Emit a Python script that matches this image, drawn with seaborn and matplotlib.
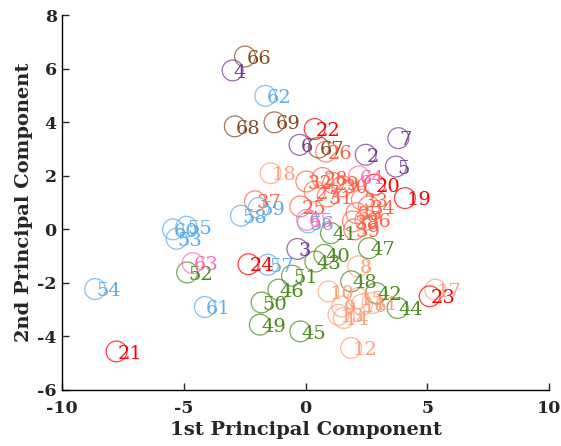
import matplotlib
matplotlib.use("Agg")
import matplotlib.pyplot as plt
import seaborn as sns
import pandas as pd

# ---- data ----
labels = [2, 3, 4, 5, 6, 7,
          8, 9, 10, 11, 12, 13, 14, 15, 16, 17, 18,
          19, 20, 21, 22, 23, 24,
          25, 26, 27, 28, 29, 30, 31, 32, 33, 34, 35, 36, 37, 38, 39,
          40, 41, 42, 43, 44, 45, 46, 47, 48, 49, 50, 51, 52,
          53, 54, 55, 56, 57, 58, 59, 60, 61, 62,
          63, 64, 65,
          66, 67, 68, 69]
pc1 = [2.47, -0.34, -3.0, 3.71, -0.25, 3.81,
       2.16, 1.5, 0.94, 2.75, 1.87, 1.35, 1.57, 2.16, 2.31, 5.33, -1.44,
       4.08, 2.83, -7.77, 0.37, 5.1, -2.35,
       -0.22, 0.84, 0.37, 0.69, 1.13, 1.5, 0.91, 0.03, 2.31, 2.6, 2.09, 2.46, -2.08, 1.94, 2.0,
       0.77, 1.04, 2.9, 0.4, 3.78, -0.22, -1.12, 2.6, 1.87, -1.88, -1.81, -0.56, -4.87,
       -5.3, -8.65, -4.9, 0.1, -1.55, -2.66, -1.93, -5.45, -4.14, -1.66,
       -4.64, 2.19, 0.06,
       -2.49, 0.54, -2.91, -1.28]
pc2 = [2.79, -0.73, 5.94, 2.35, 3.16, 3.41,
       -1.38, -2.88, -2.32, -2.75, -4.43, -3.19, -3.31, -2.57, -2.81, -2.25, 2.1,
       1.17, 1.67, -4.56, 3.75, -2.5, -1.3,
       0.86, 2.91, 1.42, 1.92, 1.73, 1.61, 1.23, 1.79, 1.11, 0.86, 0.61, 0.36, 1.05, 0.3, 0.0,
       -0.95, -0.14, -2.38, -1.2, -2.94, -3.81, -2.25, -0.7, -1.94, -3.56, -2.73, -1.73, -1.61,
       -0.35, -2.23, 0.1, 0.26, -1.32, 0.51, 0.8, 0.0, -2.9, 4.99,
       -1.26, 1.98, 0.36,
       6.46, 3.06, 3.85, 4.0]
groups = (["A"] * 6 + ["B"] * 11 + ["C"] * 6 + ["D"] * 15 +
          ["E"] * 13 + ["F"] * 10 + ["G"] * 3 + ["H"] * 4)
group_colors = {"A": "#763C96", "B": "#FFA07A", "C": "#FF0000", "D": "#FF6347",
                "E": "#4A8C1C", "F": "#5DADEC", "G": "#FF69B4", "H": "#8B4A1E"}
x_ticks = [-10, -5, 0, 5, 10]
y_ticks = [-6, -4, -2, 0, 2, 4, 6, 8]

df = pd.DataFrame({"pc1": pc1, "pc2": pc2, "label": labels, "group": groups})

sns.set_style("ticks")
plt.rcParams["font.family"] = ["DejaVu Serif", "Liberation Serif"]

fig = plt.figure(figsize=(5.61, 4.46), dpi=100)
ax = fig.add_axes([0.111, 0.1256, 0.8676, 0.8401])

sns.scatterplot(data=df, x="pc1", y="pc2", hue="group", palette=group_colors,
                s=225, marker="o", linewidth=0.9, alpha=0.75,
                legend=False, ax=ax)
coll = ax.collections[0]
coll.set_edgecolors([group_colors[g] for g in groups])
coll.set_facecolors("none")

for xv, yv, lab, g in zip(pc1, pc2, labels, groups):
    ax.text(xv + 0.05, yv - 0.08, str(lab), color=group_colors[g],
            fontsize=14, ha="left", va="center")

ax.set_xlim(-10, 10)
ax.set_ylim(-6, 8)
ax.set_xticks(x_ticks)
ax.set_yticks(y_ticks)
ax.set_xticklabels([str(t) for t in x_ticks], fontsize=12.5, fontweight="bold")
ax.set_yticklabels([str(t) for t in y_ticks], fontsize=12.5, fontweight="bold")
ax.tick_params(axis="x", direction="in", length=5, width=1, pad=7)
ax.tick_params(axis="y", direction="in", length=5, width=1, pad=4)
ax.set_xlabel("1st Principal Component", fontsize=14, fontweight="bold", labelpad=3)
ax.set_ylabel("2nd Principal Component", fontsize=14, fontweight="bold", labelpad=3)
sns.despine(ax=ax)
for sp in ["left", "bottom"]:
    ax.spines[sp].set_linewidth(1.0)
    ax.spines[sp].set_color("black")

fig.savefig("out.png", dpi=100)
